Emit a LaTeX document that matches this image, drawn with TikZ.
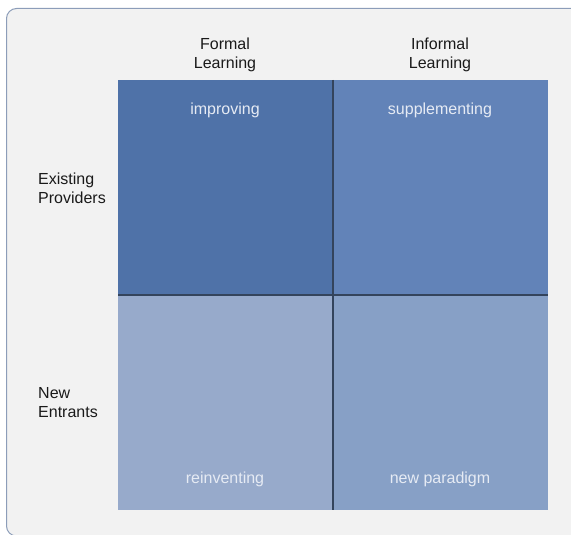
\documentclass[tikz,border=0pt]{standalone}
\usepackage{fontspec}
\setmainfont{Liberation Sans}
\definecolor{panelbg}{HTML}{F2F2F2}
\definecolor{panelrim}{HTML}{8C9DB9}
\definecolor{cellTL}{HTML}{4F72A8}
\definecolor{cellTR}{HTML}{6283B8}
\definecolor{cellBL}{HTML}{97AACB}
\definecolor{cellBR}{HTML}{87A0C6}
\definecolor{gridline}{HTML}{34445C}
\definecolor{celltext}{HTML}{E6EBF4}
\definecolor{headtext}{HTML}{1A1A1A}
\tikzset{
  headlabel/.style={text=headtext, align=center, font=\fontsize{16}{19}\selectfont, inner sep=0pt},
  rowlabel/.style={text=headtext, align=left, anchor=west, font=\fontsize{16}{19}\selectfont, inner sep=0pt},
  celllabel/.style={text=celltext, font=\fontsize{16}{19}\selectfont, inner sep=0pt}
}
\begin{document}
\begin{tikzpicture}[x=1pt,y=-1pt]
        \useasboundingbox (0,0) rectangle (571,535);
        \clip (0,0) rectangle (571,535);
        % panel
        \draw[panelrim, fill=panelbg, line width=1pt, rounded corners=10pt] (6.5,8.5) rectangle (600,536);
        % four cells
        \fill[cellTL] (118,80) rectangle (333,295);
        \fill[cellTR] (333,80) rectangle (548,295);
        \fill[cellBL] (118,295) rectangle (333,510);
        \fill[cellBR] (333,295) rectangle (548,510);
        \draw[gridline, line width=1.3pt] (333,80) -- (333,510);
        \draw[gridline, line width=1.3pt] (118,295) -- (548,295);
        % column and row heads
        \node[headlabel] (formal) at (225,55) {Formal\\Learning};
        \node[headlabel] (informal) at (440,55) {Informal\\Learning};
        \node[rowlabel] (existing) at (38,188) {Existing\\Providers};
        \node[rowlabel] (entrants) at (38,403) {New\\Entrants};
        % cell texts
        \node[celllabel] (improving) at (225,110) {improving};
        \node[celllabel] (supplementing) at (440,110) {supplementing};
        \node[celllabel] (reinventing) at (225,479) {reinventing};
        \node[celllabel] (paradigm) at (440,479) {new paradigm};
    \end{tikzpicture}
\end{document}
